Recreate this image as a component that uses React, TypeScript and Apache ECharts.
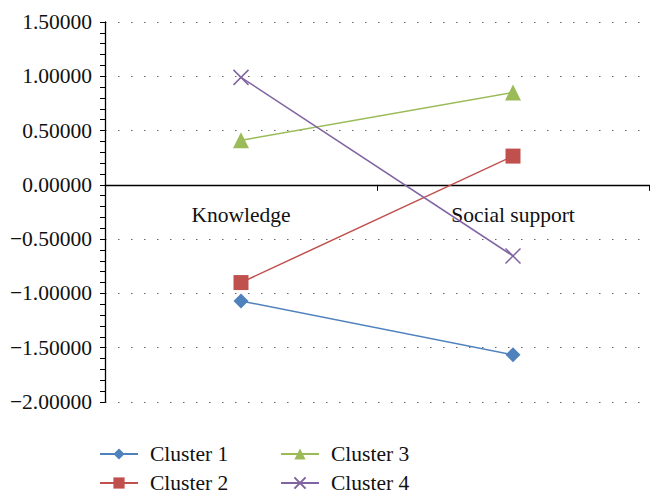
import React, { useEffect, useRef } from "react";
import * as echarts from "echarts";

const categories = ["Knowledge", "Social support"];
const seriesNames = ["Cluster 1", "Cluster 2", "Cluster 3", "Cluster 4"];
const cluster1 = [-1.07, -1.565];
const cluster2 = [-0.9, 0.265];
const cluster3 = [0.41, 0.85];
const cluster4 = [0.99, -0.655];
const colors = ["#4F81BD", "#C0504D", "#9BBB59", "#8064A2"];
const symbols = [
  "diamond",
  "rect",
  "triangle",
  "path://M0,0L10,10M10,0L0,10",
];
const symbolSizes = [15, 15, 16, 15];

const FONT = "Liberation Serif";

export default function App() {
  const ref = useRef<HTMLDivElement>(null);
  useEffect(() => {
    if (!ref.current) return;
    const chart = echarts.init(ref.current, null, { renderer: "svg" });
    const data = [cluster1, cluster2, cluster3, cluster4];
    const series = seriesNames.map((name, i) => ({
      name,
      type: "line",
      data: data[i],
      symbol: symbols[i],
      symbolSize: symbolSizes[i],
      lineStyle: { color: colors[i], width: 1.5 },
      itemStyle:
        i === 3
          ? { color: colors[i], borderColor: colors[i], borderWidth: 1.5 }
          : { color: colors[i] },
      emphasis: { disabled: true },
    }));
    const legendBase = {
      orient: "vertical",
      padding: 0,
      itemWidth: 38,
      itemHeight: 14,
      itemGap: 7,
      textStyle: {
        fontFamily: FONT,
        fontSize: 21.5,
        color: "#111",
        padding: [0, 0, 0, 7],
      },
    };
    chart.setOption({
      animation: false,
      backgroundColor: "#fff",
      textStyle: { fontFamily: FONT },
      grid: { left: 105, right: 15, top: 22, bottom: 101 },
      legend: [
        { ...legendBase, left: 99, top: 443, data: ["Cluster 1", "Cluster 2"] },
        { ...legendBase, left: 280, top: 443, data: ["Cluster 3", "Cluster 4"] },
      ],
      xAxis: {
        type: "category",
        data: categories,
        boundaryGap: true,
        axisLine: { onZero: true, lineStyle: { color: "#000", width: 1.3 } },
        axisTick: { show: true, length: 6, lineStyle: { color: "#000" } },
        axisLabel: {
          fontFamily: FONT,
          fontSize: 21.5,
          color: "#111",
          margin: -198,
        },
        splitLine: { show: false },
      },
      yAxis: {
        type: "value",
        min: -2,
        max: 1.5,
        interval: 0.5,
        axisLine: { show: true, lineStyle: { color: "#000", width: 1.3 } },
        axisTick: { show: true, length: 5, lineStyle: { color: "#000" } },
        minorTick: {
          show: true,
          splitNumber: 5,
          length: 5,
          lineStyle: { color: "#000" },
        },
        axisLabel: {
          fontFamily: FONT,
          fontSize: 21.5,
          color: "#111",
          margin: 13,
          formatter: (v: number) =>
            (v < 0 ? "\u2212" : "") + Math.abs(v).toFixed(5),
        },
        splitLine: {
          show: true,
          lineStyle: { color: "#666", width: 1.2, type: [1.5, 11.5] },
        },
      },
      series,
    });
    return () => chart.dispose();
  }, []);
  return (
    <div
      ref={ref}
      style={{ position: "fixed", left: 0, top: 0, width: 664, height: 503 }}
    />
  );
}
